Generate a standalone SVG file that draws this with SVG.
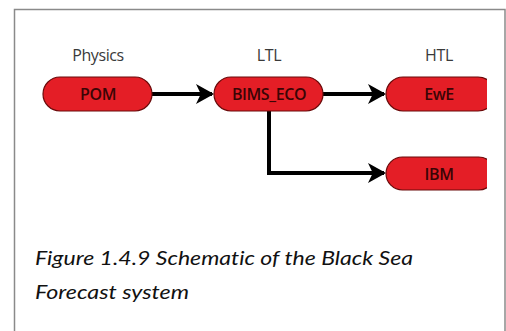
<svg xmlns="http://www.w3.org/2000/svg" width="506" height="331" viewBox="0 0 506 331">
<style>
.node{fill:#e41e26;stroke:#6a0a0a;stroke-width:1.2}
.nt{font-family:"Open Sans","Noto Sans",sans-serif;font-size:16px;font-weight:600;fill:#3a0505;text-anchor:middle;letter-spacing:-0.4px}
.lbl{font-family:"Open Sans","Noto Sans",sans-serif;font-size:16px;font-weight:500;fill:#3a3a3a;text-anchor:middle;letter-spacing:-0.4px}
.cap{font-family:Lato,"Liberation Sans",sans-serif;font-style:italic;font-size:20px;fill:#111;font-variant-ligatures:none}
.con{fill:none;stroke:#000;stroke-width:4}
</style>
<defs>
<marker id="ah" markerWidth="5" markerHeight="5" refX="4" refY="2.5" orient="auto" markerUnits="strokeWidth">
<path d="M0,0 L4.5,2.5 L0,5 L1.2,2.5 Z" fill="#000"/>
</marker>
<clipPath id="clip"><rect x="0" y="0" width="487" height="331"/></clipPath>
</defs>
<rect x="0" y="0" width="506" height="331" fill="#fff"/>
<path d="M14.5,340 V9.5 H505 V340" fill="none" stroke="#8a8a8a" stroke-width="1.5"/>
<g id="labels">
<text class="lbl" x="98" y="61">Physics</text>
<text class="lbl" x="269" y="61">LTL</text>
<text class="lbl" x="439" y="61">HTL</text>
</g>
<g id="connectors">
<line class="con" x1="152" y1="94" x2="212" y2="94" marker-end="url(#ah)"/>
<line class="con" x1="323" y1="94" x2="384" y2="94" marker-end="url(#ah)"/>
<polyline class="con" points="269,111 269,173 384,173" marker-end="url(#ah)"/>
</g>
<g id="node-pom">
<rect class="node" x="43" y="77" width="109" height="34" rx="17"/>
<text class="nt" x="98" y="100">POM</text>
</g>
<g id="node-bims">
<rect class="node" x="214" y="77" width="109" height="34" rx="17"/>
<text class="nt" x="269" y="100">BIMS_ECO</text>
</g>
<g id="node-ewe" clip-path="url(#clip)">
<rect class="node" x="386" y="77" width="109" height="34" rx="17"/>
<text class="nt" x="439" y="100">EwE</text>
</g>
<g id="node-ibm" clip-path="url(#clip)">
<rect class="node" x="386" y="157" width="109" height="33" rx="16.5"/>
<text class="nt" x="439" y="179.5">IBM</text>
</g>
<g id="caption">
<text class="cap" x="35" y="265" textLength="378" lengthAdjust="spacingAndGlyphs">Figure 1.4.9 Schematic of the Black Sea</text>
<text class="cap" x="35" y="299" textLength="154" lengthAdjust="spacingAndGlyphs">Forecast system</text>
</g>
</svg>
